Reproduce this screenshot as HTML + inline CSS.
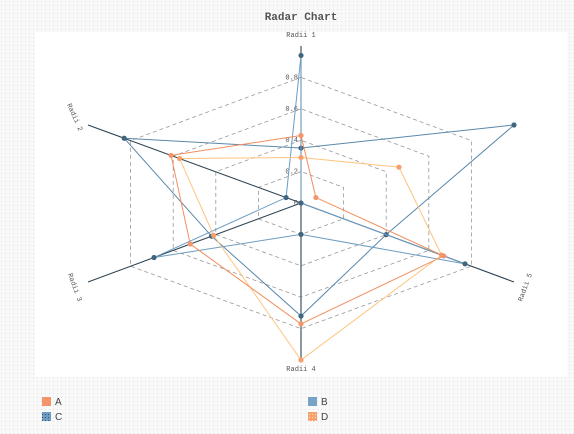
<!DOCTYPE html>
<html><head><meta charset="utf-8"><style>
html,body{margin:0;padding:0;width:574px;height:434px;overflow:hidden;background:#f3f3f3;}
svg{display:block;font-family:"Liberation Mono",monospace;}
</style></head><body>
<svg id="chart" width="574" height="434" viewBox="0 0 574 434">
<defs>
<pattern id="bgdots" width="4" height="4" patternUnits="userSpaceOnUse"><rect width="4" height="4" fill="#f9f9f9"/><rect x="1" y="1" width="1" height="1" fill="#e0e0e0"/></pattern>
<pattern id="pc" width="3" height="3" patternUnits="userSpaceOnUse"><rect width="3" height="3" fill="#6f9cc0"/><rect width="1" height="1" fill="#2f5572"/></pattern>
<pattern id="pd" width="3" height="3" patternUnits="userSpaceOnUse"><rect width="3" height="3" fill="#f7a06e"/><rect width="1" height="1" fill="#fde0b0"/></pattern>
</defs>
<rect width="574" height="434" fill="url(#bgdots)"/>
<rect x="35" y="32" width="533" height="345" fill="#fff"/>
<text x="301" y="20" text-anchor="middle" font-size="11" font-weight="bold" fill="#555">Radar Chart</text>
<g id="grid"></g><g id="axes"></g><g id="series"></g>
<g font-family="Liberation Sans, sans-serif" font-size="10" fill="#444">
<rect x="42" y="397" width="9" height="9" fill="#f4946a"/><text x="55" y="405">A</text>
<rect x="42" y="412" width="9" height="9" fill="url(#pc)"/><text x="55" y="420">C</text>
<rect x="308" y="397" width="9" height="9" fill="#77a4c6"/><text x="321" y="405">B</text>
<rect x="308" y="412" width="9" height="9" fill="url(#pd)"/><text x="321" y="420">D</text>
</g>
</svg>
<script>
const axisLabels = ["Radii 1","Radii 2","Radii 3","Radii 4","Radii 5",""];
const tickLabels = ["0","0.2","0.4","0.6","0.8"];
const ringValues = [0.2,0.4,0.6,0.8];
const seriesNames = ["A","B","C","D"];
const valuesA = [0.43,0.61,0.52,0.77,0.67,0.07];
const valuesB = [0.94,0.07,0.69,0.2,0.77,0];
const valuesC = [0.35,0.83,0.42,0.72,0.4,1.0];
const valuesD = [0.29,0.57,0.41,1.0,0.66,0.46];

const NS="http://www.w3.org/2000/svg";
const cx=301, cy=203;
const dirs=[[0,-157],[-213,-78],[-213,79],[0,157],[213,79],[213,-78]];
function pt(i,v){return [cx+dirs[i][0]*v, cy+dirs[i][1]*v];}
function mk(tag,attrs,parent){const e=document.createElementNS(NS,tag);for(const k in attrs)e.setAttribute(k,attrs[k]);parent.appendChild(e);return e;}
const grid=document.getElementById('grid'), axes=document.getElementById('axes'), ser=document.getElementById('series');
ringValues.forEach((r,ri)=>{
  const p=dirs.map((d,i)=>pt(i,r).join(',')).join(' ');
  const e=mk('polygon',{points:p,fill:'none',stroke:'#999','stroke-dasharray':'4,3','stroke-width':0.8},grid);
  
  
});
for(let i=0;i<5;i++){
  const [x,y]=pt(i,1);
  const l=mk('line',{x1:cx,y1:cy,x2:x,y2:y,stroke:'#2f4554','stroke-width':1.1},axes);
  
  
}
const labelPos=[[301,37,0],[73,118,66],[73,288,70],[301,371,0],[527,288,-70]];
labelPos.forEach((lp,i)=>{
  const t=mk('text',{x:lp[0],y:lp[1],'text-anchor':'middle','font-size':7,fill:'#555',transform:'rotate('+lp[2]+' '+lp[0]+' '+lp[1]+')'},axes);
  t.textContent=axisLabels[i];
  
  
});
tickLabels.forEach((tl,i)=>{
  const v=i*0.2;
  const t=mk('text',{x:298,y:cy-157*v+2,'text-anchor':'end','font-size':7,fill:'#555'},axes);
  t.textContent=tl;
  
  
});
const allVals=[valuesA,valuesB,valuesC,valuesD];
const colors=['#f28e5c','#6c9dc2','#5a88aa','#fdc480'];
const dotColors=['#f4946a','#40667f','#40667f','#f7a06e'];
const order=[2,1,3,0];
order.forEach(s=>{
  const vals=allVals[s];
  const g=mk('g',{},ser);
  
  
  const pts=vals.map((v,i)=>pt(i,v));
  const pl=mk('polygon',{points:pts.map(p=>p.join(',')).join(' '),fill:'none',stroke:colors[s],'stroke-width':1},g);
  
  
  pts.forEach((p,i)=>{
    const c=mk('circle',{cx:p[0],cy:p[1],r:2.6,fill:dotColors[s]},g);
    
    
  });
});
</script>
</body></html>
